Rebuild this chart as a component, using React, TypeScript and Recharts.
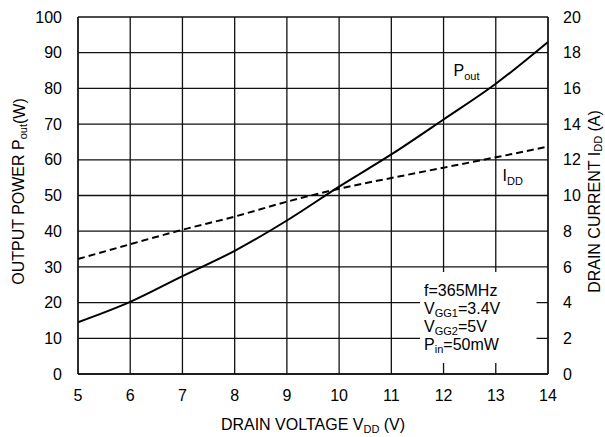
import React from "react";
import {
  ComposedChart,
  Line,
  XAxis,
  YAxis,
  CartesianGrid,
  ReferenceArea,
  ReferenceDot,
} from "recharts";

const vdd = [5, 6, 7, 8, 9, 10, 11, 12, 13, 14];
const poutW = [14.5, 20.2, 27.4, 34.5, 43.0, 52.5, 61.5, 71.3, 81.3, 93.0];
const iddA = [6.44, 7.27, 8.08, 8.82, 9.65, 10.38, 10.98, 11.56, 12.14, 12.74];

const xTicks = [5, 6, 7, 8, 9, 10, 11, 12, 13, 14];
const leftTicks = [0, 10, 20, 30, 40, 50, 60, 70, 80, 90, 100];
const rightTicks = [0, 2, 4, 6, 8, 10, 12, 14, 16, 18, 20];

const data = vdd.map((v, i) => ({ v, pout: poutW[i], idd: iddA[i] }));

const FONT = "'Liberation Sans', Arial, sans-serif";
const INK = "#000";
const FS = 16;
const SUB = 11;

const XTitle = (props: any) => {
  const vb = props.viewBox || {};
  const cx = vb.x + vb.width / 2;
  return (
    <text x={cx} y={vb.y + 56} textAnchor="middle" fontFamily={FONT} fontSize={FS} fill={INK}>
      DRAIN VOLTAGE V
      <tspan dy={3} fontSize={SUB}>DD</tspan>
      <tspan dy={-3}> (V)</tspan>
    </text>
  );
};

const LeftTitle = () => (
  <text
    x={0}
    y={0}
    transform="translate(18.5,191.5) rotate(-90)"
    textAnchor="middle"
    dominantBaseline="central"
    fontFamily={FONT}
    fontSize={FS}
    fill={INK}
  >
    OUTPUT POWER P
    <tspan dy={4} fontSize={SUB}>out</tspan>
    <tspan dy={-4}>(W)</tspan>
  </text>
);

const RightTitle = () => (
  <text
    x={0}
    y={0}
    transform="translate(594,201.5) rotate(-90)"
    textAnchor="middle"
    dominantBaseline="central"
    fontFamily={FONT}
    fontSize={FS}
    fill={INK}
  >
    DRAIN CURRENT I
    <tspan dy={4} fontSize={SUB}>DD</tspan>
    <tspan dy={-4}> (A)</tspan>
  </text>
);

const PoutLabel = (props: any) => {
  const vb = props.viewBox || {};
  return (
    <text x={vb.x} y={vb.y} fontFamily={FONT} fontSize={FS} fill={INK}>
      P
      <tspan dy={4} fontSize={SUB}>out</tspan>
    </text>
  );
};

const IddLabel = (props: any) => {
  const vb = props.viewBox || {};
  return (
    <text x={vb.x} y={vb.y} fontFamily={FONT} fontSize={FS} fill={INK}>
      I
      <tspan dy={4} fontSize={SUB}>DD</tspan>
    </text>
  );
};

const BoxText = (props: any) => {
  const vb = props.viewBox || {};
  const x = vb.x + 4;
  const y0 = vb.y + 24;
  const dy = 18.2;
  return (
    <g fontFamily={FONT} fontSize={FS} fill={INK}>
      <text x={x} y={y0}>f=365MHz</text>
      <text x={x} y={y0 + dy}>
        V<tspan dy={3} fontSize={SUB}>GG1</tspan>
        <tspan dy={-3}>=3.4V</tspan>
      </text>
      <text x={x} y={y0 + dy * 2}>
        V<tspan dy={3} fontSize={SUB}>GG2</tspan>
        <tspan dy={-3}>=5V</tspan>
      </text>
      <text x={x} y={y0 + dy * 3}>
        P<tspan dy={3} fontSize={SUB}>in</tspan>
        <tspan dy={-3}>=50mW</tspan>
      </text>
    </g>
  );
};

export default function App() {
  return (
    <div style={{ position: "absolute", left: 0, top: 0, background: "#fff" }}>
      <ComposedChart
        width={605}
        height={437}
        data={data}
        margin={{ top: 17, right: 0, left: 0, bottom: 0 }}
      >
        <CartesianGrid
          yAxisId="left"
          stroke="#111"
          strokeWidth={1.3}
          horizontalValues={leftTicks}
          verticalValues={xTicks}
        />
        <XAxis
          dataKey="v"
          type="number"
          domain={[5, 14]}
          ticks={xTicks}
          interval={0}
          height={63}
          tickLine={false}
          axisLine={{ stroke: "#111", strokeWidth: 1.3 }}
          tickMargin={10}
          tick={{ fontSize: FS, fill: INK, fontFamily: FONT }}
          label={{ content: XTitle }}
        />
        <YAxis
          yAxisId="left"
          domain={[0, 100]}
          ticks={leftTicks}
          interval={0}
          width={78}
          tickLine={false}
          axisLine={{ stroke: "#111", strokeWidth: 1.3 }}
          tickMargin={10}
          tick={{ fontSize: FS, fill: INK, fontFamily: FONT }}
          label={{ content: LeftTitle }}
        />
        <YAxis
          yAxisId="right"
          orientation="right"
          domain={[0, 20]}
          ticks={rightTicks}
          interval={0}
          width={57}
          tickLine={false}
          axisLine={{ stroke: "#111", strokeWidth: 1.3 }}
          tickMargin={9}
          tick={{ fontSize: FS, fill: INK, fontFamily: FONT, textAnchor: "start" }}
          label={{ content: RightTitle }}
        />
        <ReferenceArea
          yAxisId="left"
          x1={11.55}
          x2={13.78}
          y1={3.1}
          y2={28.6}
          fill="#fff"
          fillOpacity={1}
          stroke="none"
          ifOverflow="visible"
          label={{ content: BoxText }}
        />
        <Line
          yAxisId="left"
          type="monotone"
          dataKey="pout"
          stroke={INK}
          strokeWidth={2}
          dot={false}
          isAnimationActive={false}
        />
        <Line
          yAxisId="right"
          type="monotone"
          dataKey="idd"
          stroke={INK}
          strokeWidth={2}
          strokeDasharray="7 4"
          dot={false}
          isAnimationActive={false}
        />
        <ReferenceDot
          yAxisId="left"
          x={12.19}
          y={83.5}
          r={0}
          fill="none"
          stroke="none"
          ifOverflow="visible"
          label={{ content: PoutLabel }}
        />
        <ReferenceDot
          yAxisId="left"
          x={13.13}
          y={54}
          r={0}
          fill="none"
          stroke="none"
          ifOverflow="visible"
          label={{ content: IddLabel }}
        />
      </ComposedChart>
    </div>
  );
}
